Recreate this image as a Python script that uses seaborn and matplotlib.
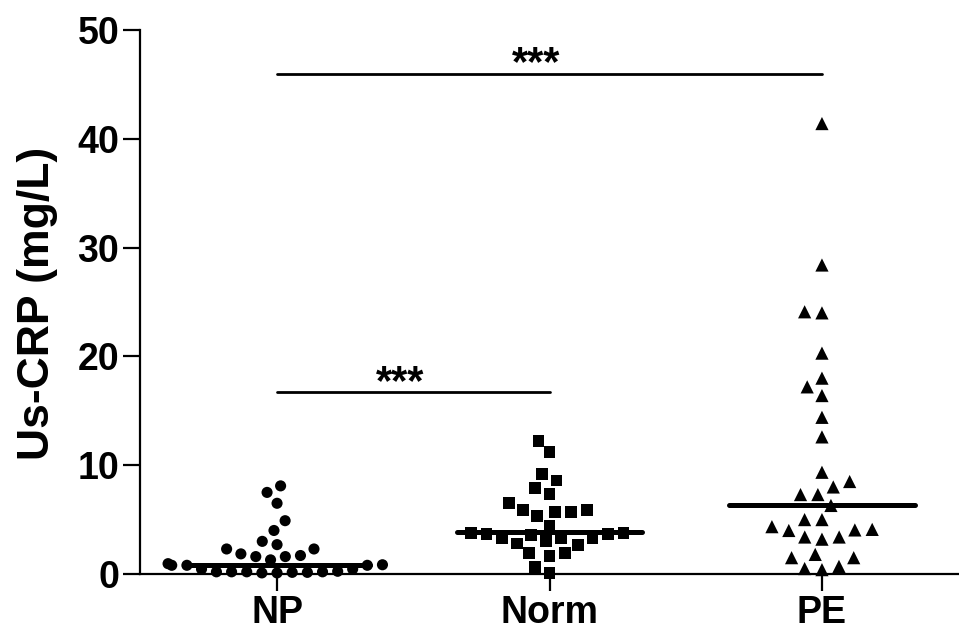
import pandas as pd
import matplotlib
matplotlib.use("Agg")
import matplotlib.pyplot as plt
from matplotlib.markers import MarkerStyle
import seaborn as sns

# values
groups = ["NP", "Norm", "PE"]
np_vals = [8.1, 7.5, 6.5, 4.9, 4.0, 3.0, 2.7, 2.3, 2.3, 1.85, 1.6, 1.6, 1.7,
           1.3, 0.85, 0.8, 0.8, 0.8, 0.95,
           0.45, 0.2, 0.15, 0.2, 0.1, 0.15, 0.2, 0.1, 0.2, 0.25, 0.45]
norm_vals = [12.2, 11.2, 9.2, 8.6, 7.9, 7.35, 6.5, 5.9, 5.7, 5.3, 5.7, 5.9,
             4.4, 3.8, 3.8, 3.7, 3.0, 3.7, 2.7, 3.3, 3.3, 3.3, 3.6, 2.8,
             1.9, 1.65, 1.95, 0.1, 0.65]
pe_vals = [41.4, 28.4, 24.0, 24.1, 20.3, 18.0, 17.2, 16.4, 14.4, 12.6, 9.35,
           8.5, 7.3, 7.3, 8.0, 6.3, 5.0, 5.0, 4.1, 4.0, 3.4, 3.2, 3.4, 4.05,
           4.35, 1.5, 0.7, 0.4, 0.5, 1.5, 1.8]
medians = [0.8, 3.85, 6.35]
markers = ["o", "s", "^"]
marker_sizes = [8, 8.5, 9.5]

sig_from = ["NP", "NP"]
sig_to = ["Norm", "PE"]
sig_y = [16.7, 46.0]
sig_text = ["***", "***"]

df = pd.DataFrame({
    "group": ["NP"] * len(np_vals) + ["Norm"] * len(norm_vals) + ["PE"] * len(pe_vals),
    "crp": np_vals + norm_vals + pe_vals,
})

sns.set_style("ticks")
plt.rcParams["font.family"] = ["Liberation Sans", "DejaVu Sans"]
plt.rcParams["font.weight"] = "bold"
plt.rcParams["text.color"] = "black"
plt.rcParams["axes.labelcolor"] = "black"
plt.rcParams["xtick.color"] = "black"
plt.rcParams["ytick.color"] = "black"
plt.rcParams["axes.edgecolor"] = "black"

fig = plt.figure(figsize=(9.59, 6.32), dpi=100)
ax = fig.add_axes([140 / 959, 1 - 574 / 632, 819 / 959, 544 / 632])

# invisible edge widens the swarm spacing, like the prism dot layout
sns.swarmplot(data=df, x="group", y="crp", order=groups, size=8, color="black",
              linewidth=2.4, edgecolor="none", clip_on=False, ax=ax)
for coll, m, s in zip(ax.collections, markers, marker_sizes):
    ms = MarkerStyle(m)
    coll.set_paths([ms.get_path().transformed(ms.get_transform())])
    coll.set_sizes([s ** 2])

# median lines
for i, med in enumerate(medians):
    ax.plot([i - 0.34, i + 0.34], [med, med], color="black", lw=3.6,
            solid_capstyle="round", zorder=5)

# significance bars
for a, b, y, t in zip(sig_from, sig_to, sig_y, sig_text):
    x0, x1 = groups.index(a), groups.index(b)
    ax.plot([x0, x1], [y, y], color="black", lw=2)
    ax.text((x0 + x1) / 2 - 0.05, y - 0.15, t, ha="center", va="baseline",
            fontsize=30, fontweight="bold")

ax.set_xlim(-0.503, 2.503)
ax.set_ylim(0, 50)
ax.set_yticks([0, 10, 20, 30, 40, 50])
ax.set_xlabel("")
ax.set_ylabel("Us-CRP (mg/L)", fontsize=32, fontweight="bold")
ax.yaxis.set_label_coords(-0.1, 0.498)
ax.tick_params(axis="both", length=12, width=1.6, pad=3)
ax.tick_params(axis="y", labelsize=27)
ax.tick_params(axis="x", labelsize=27)
for lab in ax.get_xticklabels() + ax.get_yticklabels():
    lab.set_fontweight("bold")
sns.despine(ax=ax)
ax.spines["left"].set_linewidth(1.6)
ax.spines["bottom"].set_linewidth(1.6)

fig.savefig("out.png", dpi=100)
plt.close()
